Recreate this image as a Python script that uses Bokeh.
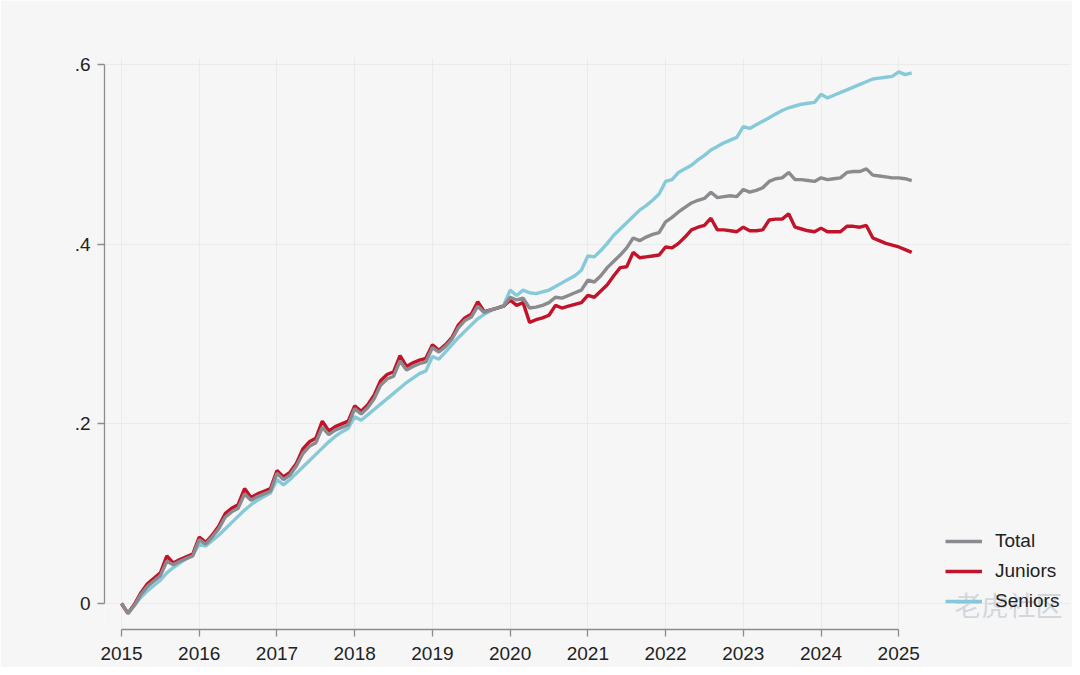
from bokeh.plotting import figure
from bokeh.models import ColumnDataSource, FixedTicker, CustomJSTickFormatter, Legend, LegendItem, Label
from bokeh.embed import file_html
from bokeh.resources import INLINE

# Monthly series, Jan 2015 .. Mar 2025
START_YEAR = 2015

juniors = [
    0.000, -0.011, -0.001, 0.012, 0.022, 0.028, 0.034, 0.053, 0.045, 0.049, 0.052, 0.055,
    0.074, 0.068, 0.076, 0.086, 0.100, 0.106, 0.110, 0.128, 0.118, 0.122, 0.125, 0.128,
    0.148, 0.141, 0.146, 0.156, 0.172, 0.180, 0.184, 0.203, 0.192, 0.197, 0.200, 0.203,
    0.220, 0.214, 0.221, 0.232, 0.248, 0.255, 0.258, 0.276, 0.264, 0.268, 0.271, 0.273,
    0.288, 0.282, 0.288, 0.296, 0.310, 0.318, 0.322, 0.336, 0.325, 0.327, 0.329, 0.331,
    0.338, 0.332, 0.335, 0.313, 0.316, 0.318, 0.321, 0.332, 0.329, 0.331, 0.333, 0.335,
    0.343, 0.341, 0.348, 0.355, 0.365, 0.374, 0.375, 0.391, 0.385, 0.386, 0.387, 0.388,
    0.397, 0.396, 0.401, 0.408, 0.416, 0.419, 0.421, 0.429, 0.416, 0.416, 0.415, 0.414,
    0.419, 0.415, 0.415, 0.416, 0.427, 0.428, 0.428, 0.434, 0.419, 0.417, 0.415, 0.414,
    0.418, 0.414, 0.414, 0.414, 0.420, 0.420, 0.419, 0.421, 0.407, 0.404, 0.401, 0.399,
    0.397, 0.394, 0.391,
]

total = [
    0.000, -0.011, -0.002, 0.010, 0.019, 0.025, 0.031, 0.047, 0.043, 0.047, 0.050, 0.053,
    0.071, 0.066, 0.074, 0.083, 0.096, 0.102, 0.106, 0.122, 0.115, 0.119, 0.122, 0.125,
    0.145, 0.138, 0.143, 0.153, 0.167, 0.175, 0.179, 0.196, 0.188, 0.193, 0.196, 0.199,
    0.217, 0.211, 0.218, 0.228, 0.243, 0.250, 0.253, 0.270, 0.260, 0.264, 0.267, 0.269,
    0.285, 0.280, 0.286, 0.294, 0.307, 0.315, 0.319, 0.331, 0.324, 0.327, 0.329, 0.331,
    0.341, 0.338, 0.340, 0.329, 0.330, 0.332, 0.335, 0.341, 0.340, 0.343, 0.346, 0.349,
    0.360, 0.358, 0.365, 0.374, 0.381, 0.388, 0.396, 0.407, 0.404, 0.408, 0.411, 0.413,
    0.425, 0.430, 0.436, 0.441, 0.446, 0.449, 0.451, 0.458, 0.452, 0.453, 0.454, 0.453,
    0.461, 0.458, 0.460, 0.463, 0.470, 0.473, 0.474, 0.480, 0.472, 0.472, 0.471, 0.470,
    0.474, 0.472, 0.473, 0.474, 0.480, 0.481, 0.481, 0.484, 0.477, 0.476, 0.475, 0.474,
    0.474, 0.473, 0.471,
]

seniors = [
    0.000, -0.011, -0.002, 0.007, 0.014, 0.020, 0.026, 0.034, 0.040, 0.045, 0.050, 0.054,
    0.066, 0.064, 0.070, 0.076, 0.083, 0.090, 0.097, 0.104, 0.110, 0.115, 0.119, 0.123,
    0.138, 0.132, 0.138, 0.145, 0.152, 0.159, 0.166, 0.173, 0.180, 0.186, 0.191, 0.195,
    0.208, 0.204, 0.210, 0.216, 0.222, 0.228, 0.234, 0.240, 0.246, 0.251, 0.256, 0.259,
    0.275, 0.272, 0.280, 0.288, 0.296, 0.303, 0.310, 0.317, 0.322, 0.326, 0.329, 0.332,
    0.349, 0.343, 0.349, 0.346, 0.345, 0.347, 0.349, 0.353, 0.357, 0.361, 0.365, 0.371,
    0.387, 0.386, 0.393, 0.401, 0.410, 0.417, 0.424, 0.431, 0.438, 0.443, 0.449, 0.456,
    0.470, 0.472, 0.480, 0.484, 0.488, 0.494, 0.499, 0.505, 0.509, 0.513, 0.516, 0.519,
    0.531, 0.529, 0.533, 0.537, 0.541, 0.545, 0.549, 0.552, 0.554, 0.556, 0.557, 0.558,
    0.567, 0.563, 0.566, 0.569, 0.572, 0.575, 0.578, 0.581, 0.584, 0.585, 0.586, 0.587,
    0.592, 0.589, 0.591,
]

year_ticks = list(range(2015, 2026))
y_ticks = [0, 0.2, 0.4, 0.6]

series_names = ["Total", "Juniors", "Seniors"]
series_colors = ["#8b8b8f", "#c1142a", "#86cad9"]

years = [START_YEAR + m / 12 for m in range(len(total))]
source = ColumnDataSource(dict(x=years, total=total, juniors=juniors, seniors=seniors))

FONT = "Liberation Sans"
BG = "#f6f6f6"

p = figure(
    width=1072, height=667,
    x_range=(2014.781, 2027.21), y_range=(-0.029, 0.608),
    output_backend="svg", toolbar_location=None, tools="",
    min_border_left=104, min_border_right=2, min_border_top=57, min_border_bottom=38,
    background_fill_color=BG, border_fill_color=BG,
)
p.outline_line_color = None

# draw seniors first, total last (on top)
r_sen = p.line("x", "seniors", source=source, line_color=series_colors[2], line_width=3.4)
r_jun = p.line("x", "juniors", source=source, line_color=series_colors[1], line_width=3.4)
r_tot = p.line("x", "total", source=source, line_color=series_colors[0], line_width=3.4)

# axes, Stata-like
p.xaxis.ticker = FixedTicker(ticks=year_ticks)
p.yaxis.ticker = FixedTicker(ticks=y_ticks)
p.xaxis.bounds = (2015, 2025)
p.yaxis.bounds = (0, 0.6)
p.yaxis.formatter = CustomJSTickFormatter(
    code="return tick == 0 ? '0' : tick.toFixed(1).replace(/^0/, '');")
for ax in (p.xaxis, p.yaxis):
    ax.axis_line_color = "#8c8c8c"
    ax.axis_line_width = 1.3
    ax.major_tick_line_color = "#8c8c8c"
    ax.major_tick_line_width = 1.3
    ax.major_tick_in = 0
    ax.major_tick_out = 7
    ax.minor_tick_line_color = None
    ax.major_label_text_font = FONT
    ax.major_label_text_font_size = "19px"
    ax.major_label_text_color = "#222222"
p.xaxis.major_label_standoff = 10
p.yaxis.major_label_standoff = 7
p.yaxis.major_label_orientation = "horizontal"

p.xgrid.ticker = FixedTicker(ticks=year_ticks)
p.ygrid.ticker = FixedTicker(ticks=y_ticks)
p.grid.grid_line_color = "#ebebeb"
p.grid.grid_line_width = 1
p.xgrid.bounds = (-0.029, 0.6)
p.ygrid.bounds = (2014.781, 2025.2)

legend = Legend(
    items=[LegendItem(label=series_names[0], renderers=[r_tot]),
           LegendItem(label=series_names[1], renderers=[r_jun]),
           LegendItem(label=series_names[2], renderers=[r_sen])],
    location=(841, 17),
    padding=0, margin=0, spacing=8,
    glyph_width=37, glyph_height=20, label_height=20, label_standoff=13,
    label_text_font=FONT, label_text_font_size="19px", label_text_color="#222222",
    border_line_color=None, background_fill_alpha=0,
)
p.add_layout(legend)

# faint watermark of the source image
p.add_layout(Label(x=850, y=6, x_units="screen", y_units="screen", text="老虎社区",
                   text_font="Noto Sans CJK SC", text_font_size="27px",
                   text_color="#c9ced6", text_alpha=0.8))

open("out.html", "w").write(file_html(p, INLINE))
